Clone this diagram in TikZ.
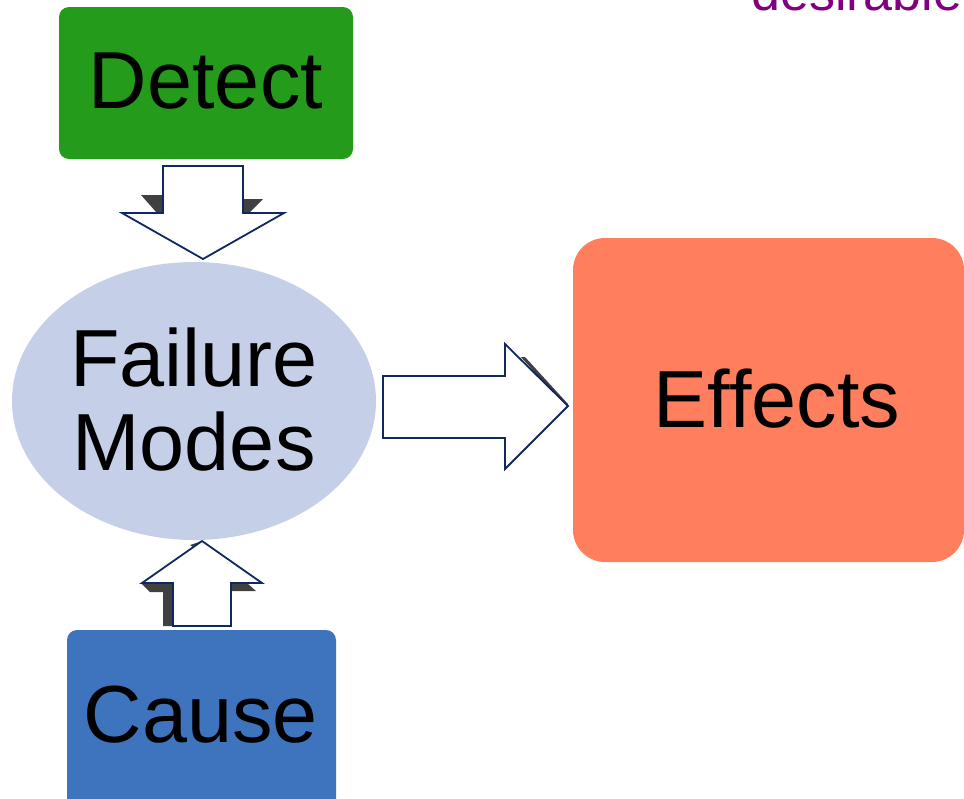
\documentclass[tikz,border=0pt]{standalone}
\usepackage{fontspec}
\setmainfont{Liberation Sans}
\definecolor{detgreen}{RGB}{36,155,26}
\definecolor{fmblue}{RGB}{197,208,232}
\definecolor{effcoral}{RGB}{255,126,94}
\definecolor{causeblue}{RGB}{62,116,190}
\definecolor{arrowline}{RGB}{16,40,96}
\definecolor{shadowgray}{RGB}{64,64,64}
\definecolor{purp}{RGB}{128,0,128}
\begin{document}
\begin{tikzpicture}[x=1pt,y=-1pt,
  big/.style={font=\fontsize{81}{84}\selectfont, text=black, inner sep=0pt},
  blockarrow/.style={draw=arrowline, line width=1.8pt, fill=white, line join=miter},
  shade/.style={fill=shadowgray, draw=none}]
\useasboundingbox (0,0) rectangle (964,798);
\clip (0,0) rectangle (964,798);
% boxes
\fill[detgreen, rounded corners=10pt] (59,7) rectangle (353,159);
\fill[fmblue] (194,401) ellipse [x radius=182, y radius=139];
\fill[effcoral, rounded corners=32pt] (573,238) rectangle (964,562);
\fill[causeblue, rounded corners=10pt] (67,630) rectangle (336,830);
% texts
\node[big, anchor=base] (detect) at (206,108) {Detect};
\node[big, anchor=base] (fm1) at (194,386) {Failure};
\node[big, anchor=base] (fm2) at (194,470) {Modes};
\node[big, anchor=base] (effects) at (777,427) {Effects};
\node[big, anchor=base] (cause) at (201,742) {Cause};
\node[font=\fontsize{52}{56}\selectfont, text=purp, anchor=base west, inner sep=0pt] (desir) at (751,10) {desirable};
% down arrow (Detect -> Failure Modes)
\fill[shade] (141,195) -- (163,195) -- (163,213) -- (157,213) -- cycle;
\fill[shade] (243,199) -- (263,199) -- (249,213) -- (243,213) -- cycle;
\draw[blockarrow] (163,166) -- (243,166) -- (243,213) -- (284,213) -- (203,259) -- (122,213) -- (163,213) -- cycle;
% right arrow (Failure Modes -> Effects)
\fill[shade] (521,357) -- (525,357) -- (568,404) -- (565,406) -- cycle;
\draw[blockarrow] (383,376) -- (505,376) -- (505,344) -- (568,406) -- (505,469) -- (505,438) -- (383,438) -- cycle;
% up arrow (Cause -> Failure Modes)
\fill[shade] (142,584) -- (173,584) -- (173,626) -- (163,626) -- (163,592) -- (150,592) -- cycle;
\fill[shade] (231,583) -- (247,583) -- (256,591) -- (231,591) -- cycle;
\fill[shade] (190,545) -- (202,541) -- (196,549) -- cycle;
\draw[blockarrow] (173,626) -- (231,626) -- (231,583) -- (262,583) -- (202,541) -- (142,583) -- (173,583) -- cycle;
\end{tikzpicture}
\end{document}
